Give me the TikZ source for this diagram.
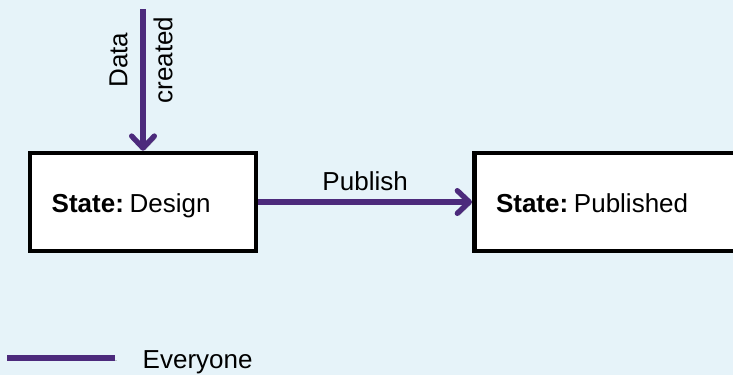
\documentclass[tikz,border=0pt]{standalone}
\usepackage{fontspec}
\setmainfont{Liberation Sans}
\usetikzlibrary{arrows.meta}
\definecolor{evpurple}{RGB}{76,42,124}
\definecolor{bgblue}{RGB}{230,243,249}
\begin{document}
\begin{tikzpicture}[
	x=0.75pt, y=-0.75pt,
	font=\fontsize{19.5}{22}\selectfont,
	state/.style={
		rectangle,
		draw,
		line width=3.4pt,
		fill=white,
		minimum height=73.5pt,
		inner xsep=16.3pt,
		align=left,
		text height=15pt,
		text depth=0pt,
	},
	shade/.style={% soft shadow under the purple lines
		preaction={draw=black, draw opacity=.18, transform canvas={shift={(1.4pt,-1.6pt)}}},
	},
	ArrowP/.style={% purple transition arrows
		draw=evpurple,
		line width=4pt,
		shade,
		-{Straight Barb[length=9pt,width=17pt,round]},
	},
]
	\fill [bgblue] (0,0) rectangle (733,375);
	\clip (0,0) rectangle (733,375);
	\coordinate (datain) at (143,9);
	\node [state, text width=136.9pt] (design) at (143,202) {\textbf{State:}\hspace{0.22em}Design};
	\node [state, text width=177.4pt, anchor=west] (published) at (472,202) {\textbf{State:}\hspace{0.22em}Published};
	\node [rotate=90, align=center, font=\fontsize{19.5}{33.75}\selectfont] (created) at (141,60) {Data\\created};
	\coordinate (legA) at (7,358);
	\coordinate (legB) at (115,358);
	\node [anchor=base west] (everyone) at (138,368) {Everyone};
	
	\draw [ArrowP] (datain) -- (design.north);
	\draw [ArrowP] (design) -- node[above=3.4pt, text=black]{Publish} (published);
	\draw [draw=evpurple, line width=4pt, shade] (legA) -- (legB);
\end{tikzpicture}
\end{document}
